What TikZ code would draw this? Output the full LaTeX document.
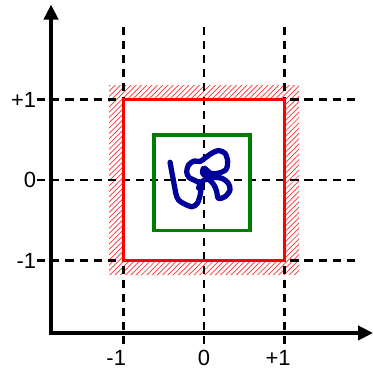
\documentclass[tikz,border=0pt]{standalone}
\usepackage{fontspec}
\setmainfont{Liberation Sans}
\usepackage{tikz}
\usetikzlibrary{arrows.meta,patterns}
\definecolor{boxred}{RGB}{255,0,0}
\definecolor{boxgreen}{RGB}{0,125,0}
\definecolor{coilblue}{RGB}{0,0,155}

\tikzset{
  axisline/.style={line width=2.4pt,-{Triangle[length=0.3cm,width=0.28cm]}},
  gridline/.style={line width=1.2pt,dash pattern=on 4.6pt off 3.4pt},
  ticklabel/.style={font=\fontsize{12.5}{12.5}\selectfont,inner sep=0pt}
}

\begin{document}
\begin{tikzpicture}[x=1.61cm,y=1.61cm]
    \useasboundingbox (-2.534,-2.348) rectangle (2.099,2.236);

    % Hatched band round the outer square
    \fill[pattern=north east lines,pattern color=boxred!80,even odd rule]
      (-1.18,-1.18) rectangle (1.18,1.18)
      (-1,-1) rectangle (1,1);

    % Dashed grid
    \foreach \g in {-1,0,1} {
      \draw[gridline] (\g,1.90) -- (\g,-2.10);
      \draw[gridline] (-2.07,\g) -- (1.94,\g);
    }

    % Axes
    \draw[axisline] (-1.90,-1.90) -- (-1.90,2.18);
    \draw[axisline] (-1.92,-1.90) -- (2.10,-1.90);

    % Squares
    \draw[boxred,line width=2.1pt] (-1,-1) rectangle (1,1);
    \draw[boxgreen,line width=1.9pt] (-0.62,-0.63) rectangle (0.57,0.56);

    % Tangled coil
    \draw[coilblue,line width=3pt,line cap=round,line join=round]
      plot[smooth,tension=0.5] coordinates {
        (-0.422,0.220) (-0.381,0.0) (-0.339,-0.207) (-0.286,-0.273)
        (-0.153,-0.332) (-0.081,-0.286) (-0.043,-0.161) (-0.043,-0.050)
        (-0.112,-0.006) (-0.186,0.031) (-0.215,0.099) (-0.193,0.186)
        (-0.124,0.236) (-0.050,0.230) (0.012,0.273) (0.096,0.332)
        (0.178,0.366) (0.261,0.332) (0.294,0.227) (0.273,0.130)
        (0.186,0.087) (0.087,0.081) (0.0,0.149) (-0.012,0.075)
        (0.096,0.037) (0.224,0.021) (0.302,-0.041) (0.323,-0.124)
        (0.261,-0.207) (0.178,-0.227) (0.158,-0.145) (0.124,-0.062)
        (0.050,0.012) (-0.029,-0.021) (-0.068,-0.099)};

    % Axis labels
    \node[ticklabel,anchor=east] (ylabtop) at (-2.08,1) {+1};
    \node[ticklabel,anchor=east] (ylabmid) at (-2.08,0) {0};
    \node[ticklabel,anchor=east] (ylabbot) at (-2.08,-1) {-1};
    \node[ticklabel] (xlableft) at (-1.09,-2.21) {-1};
    \node[ticklabel] (xlabmid) at (0,-2.21) {0};
    \node[ticklabel] (xlabright) at (0.92,-2.21) {+1};
\end{tikzpicture}
\end{document}
